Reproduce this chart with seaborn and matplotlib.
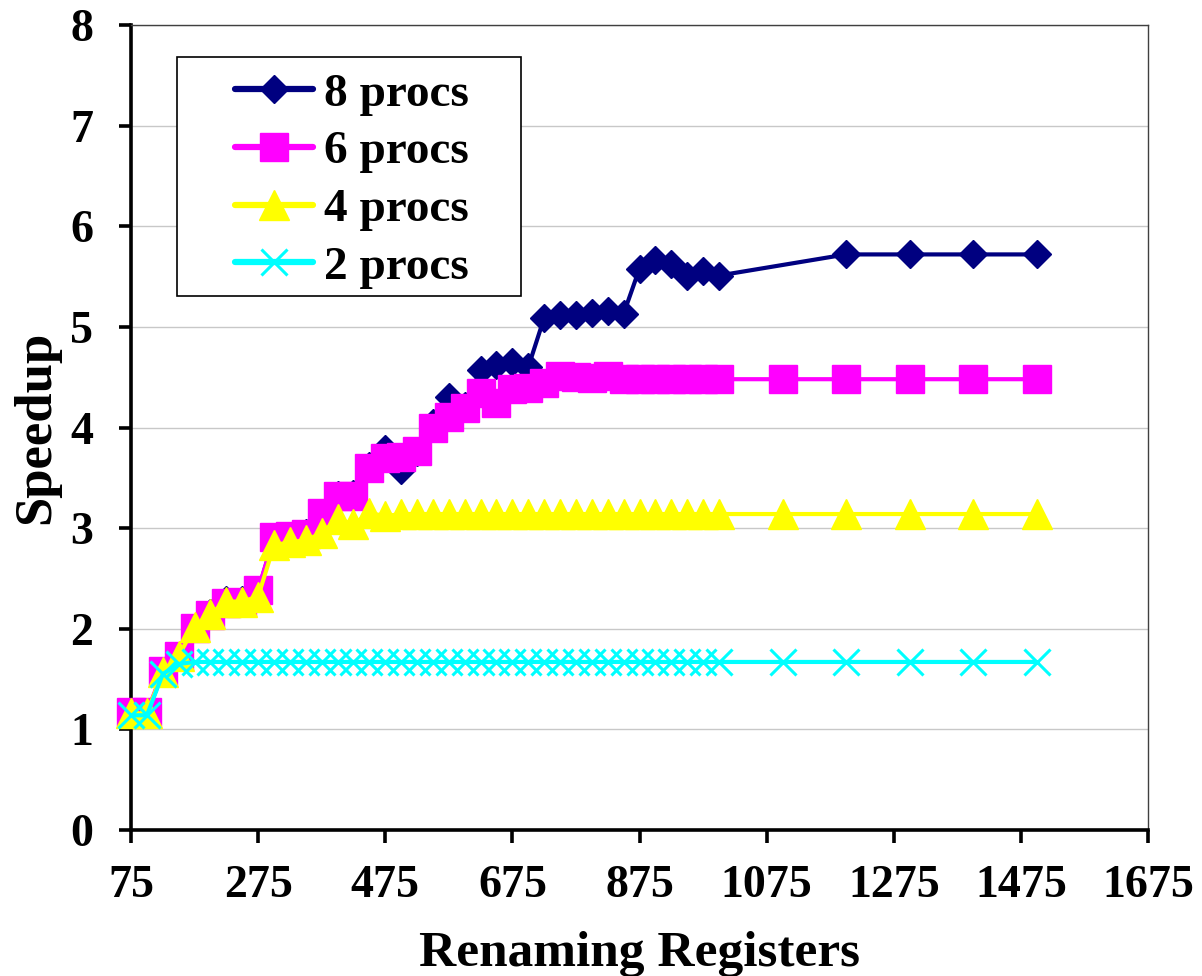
import matplotlib
matplotlib.use("Agg")
import matplotlib.pyplot as plt
import matplotlib.patches as mpatches
import pandas as pd
import seaborn as sns

# x positions (renaming registers)
X_DENSE = [75, 100, 125, 150, 175, 200, 225, 250, 275, 300, 325, 350, 375,
           400, 425, 450, 475, 500, 525, 550, 575, 600, 625, 650, 675, 700,
           725, 750, 775, 800, 825, 850, 875, 900, 925, 950, 975, 1000]
X_TAIL = [1100, 1200, 1300, 1400, 1500]
X_TAIL8 = [1200, 1300, 1400, 1500]

# speedups
P8 = [1.15, 1.15, 1.57, 1.73, 2.01, 2.16, 2.29, 2.29, 2.38, 2.90, 2.92, 2.95, 3.15,
      3.33, 3.34, 3.62, 3.79, 3.58, 3.76, 4.04, 4.30, 4.21, 4.57, 4.62, 4.65, 4.60,
      5.09, 5.12, 5.12, 5.14, 5.16, 5.13, 5.58, 5.66, 5.62, 5.51, 5.56, 5.51,
      5.72, 5.72, 5.72, 5.72]
P6 = [1.17, 1.17, 1.58, 1.73, 2.01, 2.14, 2.26, 2.27, 2.39, 2.91, 2.92, 2.94, 3.15,
      3.32, 3.32, 3.60, 3.70, 3.71, 3.77, 4.00, 4.10, 4.19, 4.34, 4.24, 4.38, 4.39,
      4.44, 4.51, 4.50, 4.49, 4.51, 4.48, 4.48, 4.48, 4.48, 4.48, 4.48, 4.48,
      4.48, 4.48, 4.48, 4.48, 4.48]
P4 = [1.16, 1.16, 1.57, 1.73, 2.02, 2.15, 2.27, 2.27, 2.32, 2.83, 2.86, 2.88, 2.95,
      3.09, 3.04, 3.15, 3.12, 3.14, 3.14, 3.14, 3.14, 3.14, 3.14, 3.14, 3.14, 3.14,
      3.14, 3.14, 3.14, 3.14, 3.14, 3.14, 3.14, 3.14, 3.14, 3.14, 3.14, 3.14,
      3.14, 3.14, 3.14, 3.14, 3.14]
P2 = [1.14, 1.14, 1.55, 1.65, 1.67, 1.67, 1.67, 1.67, 1.67, 1.67, 1.67, 1.67, 1.67,
      1.67, 1.67, 1.67, 1.67, 1.67, 1.67, 1.67, 1.67, 1.67, 1.67, 1.67, 1.67, 1.67,
      1.67, 1.67, 1.67, 1.67, 1.67, 1.67, 1.67, 1.67, 1.67, 1.67, 1.67, 1.67,
      1.67, 1.67, 1.67, 1.67, 1.67]

X_TICKS = [75, 275, 475, 675, 875, 1075, 1275, 1475, 1675]
Y_TICKS = [0, 1, 2, 3, 4, 5, 6, 7, 8]

SERIES = [
    ("8 procs", X_DENSE + X_TAIL8, P8, "#000080", "D", 14.5, 1.0),
    ("6 procs", X_DENSE + X_TAIL, P6, "#FF00FF", "s", 20, 1.0),
    ("4 procs", X_DENSE + X_TAIL, P4, "#FFFF00", "^", 21, 1.0),
    ("2 procs", X_DENSE + X_TAIL, P2, "#00FFFF", "x", 19, 2.2),
]

sns.set_style("white")
plt.rcParams["font.family"] = ["Liberation Serif", "DejaVu Serif"]
plt.rcParams["font.weight"] = "bold"
plt.rcParams["text.color"] = "black"
plt.rcParams["axes.labelcolor"] = "black"
plt.rcParams["xtick.color"] = "black"
plt.rcParams["ytick.color"] = "black"

fig = plt.figure(figsize=(12.02, 9.76), dpi=100)
ax = fig.add_axes([131 / 1202, (976 - 830) / 976, (1148 - 131) / 1202, (830 - 25) / 976])

for i, (name, xs, ys, col, mk, ms, mew) in enumerate(SERIES):
    df = pd.DataFrame({"x": xs, "y": ys})
    sns.lineplot(data=df, x="x", y="y", ax=ax, color=col, linewidth=3.0,
                 marker=mk, markersize=ms, markeredgecolor=col,
                 markeredgewidth=mew, label=name, clip_on=False,
                 zorder=3 + i, errorbar=None)

ax.set_xlim(75, 1675)
ax.set_ylim(0, 8)
ax.set_xticks(X_TICKS)
ax.set_yticks(Y_TICKS)
ax.yaxis.grid(True, color="#C8C8C8", linewidth=1.0)
ax.xaxis.grid(False)
ax.set_axisbelow(True)

for side in ["left", "bottom"]:
    ax.spines[side].set_color("black")
    ax.spines[side].set_linewidth(2.6)
for side in ["top", "right"]:
    ax.spines[side].set_color("#404040")
    ax.spines[side].set_linewidth(1.0)

ax.tick_params(axis="both", which="major", direction="out", length=9,
               width=2.6, color="black", labelcolor="black", labelsize=33)
ax.tick_params(axis="x", pad=16, bottom=True)
ax.tick_params(axis="y", pad=18, left=True)

ax.set_xlabel("Renaming Registers", fontsize=37, fontweight="bold")
ax.set_ylabel("Speedup", fontsize=38, fontweight="bold")
ax.xaxis.set_label_coords(0.5, -0.126)
ax.yaxis.set_label_coords(-0.070, 0.5)

# legend box (Excel style, wide side padding)
box = mpatches.Rectangle(((177 - 131) / 1017, (830 - 296) / 805),
                         (521 - 177) / 1017, (296 - 57) / 805,
                         transform=ax.transAxes, facecolor="white",
                         edgecolor="black", linewidth=1.2, zorder=9)
ax.add_patch(box)
leg = ax.legend(loc="upper left", bbox_to_anchor=((230 - 131) / 1017, (830 - 68) / 805),
                frameon=False, fontsize=34, handlelength=1.65, handletextpad=0.25,
                labelspacing=0.31, borderpad=0.1, borderaxespad=0)
leg.set_zorder(10)
for h in leg.legend_handles:
    h.set_linewidth(4.5)

fig.savefig("out.png", dpi=100)
